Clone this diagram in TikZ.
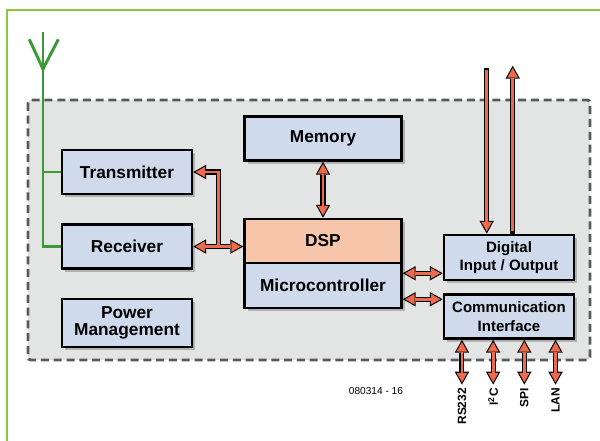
\documentclass[tikz,border=0pt]{standalone}
\usepackage{fontspec}
\setmainfont{Liberation Sans}
\usetikzlibrary{arrows.meta,positioning,shadows,calc}
\definecolor{boxblue}{HTML}{CFDBED}
\definecolor{dspsalmon}{HTML}{F7C5AA}
\definecolor{arrowred}{HTML}{EE6A4C}
\definecolor{panelgray}{HTML}{E3E4E4}
\definecolor{dashgray}{HTML}{5A5A5A}
\definecolor{aerialgreen}{HTML}{3A9A35}
\definecolor{framegreen}{HTML}{8DC63F}

\begin{document}
\begin{tikzpicture}[
  block/.style={draw,line width=1.8pt,fill=boxblue,align=center,inner sep=1pt,
    minimum width=3.25cm,minimum height=1.1cm,
    font=\fontsize{12.3}{12.3}\selectfont\bfseries,
    drop shadow={shadow xshift=2.2pt,shadow yshift=-2.2pt}},
  smallblock/.style={block,font=\fontsize{10.7}{13}\selectfont\bfseries},
  back/.style={line width=3.6pt,black,
    >={Triangle[length=9.2pt,width=10.3pt,line width=0pt]}},
  front/.style={line width=2pt,arrowred,shorten >=1.64pt,shorten <=1.64pt,
    >={Triangle[length=6.76pt,width=7.57pt,line width=0pt]}},
  aerial/.style={draw=aerialgreen,line width=2.1pt},
  port label/.style={rotate=90,anchor=east,inner sep=0pt,
    font=\fontsize{8.5}{9}\selectfont\bfseries}]
  \useasboundingbox (0,0) rectangle (15,-11.025);
  % frame and panel
  \draw[framegreen,line width=0.8pt] (0.175,-11.2) -- (0.175,-0.25) -- (15.2,-0.25);
  \draw[draw=dashgray,fill=panelgray,line width=2.1pt,rounded corners=2pt,
    dash pattern=on 0.2cm off 0.12cm] (0.7,-2.5) rectangle (14.75,-9.0);

  % blocks
  \node[block] (tx) at (3.175,-4.3) {Transmitter};
  \node[block,below=0.7cm of tx] (rx) {Receiver};
  \node[block,below=0.7cm of rx,minimum height=1.2cm] (pwr) {Power\\Management};
  \node[block,fill=dspsalmon,minimum width=3.925cm] (dsp) at (8.075,-6.025) {DSP};
  \node[block,minimum width=3.925cm,minimum height=1.125cm,below=-1.8pt of dsp] (mcu) {Microcontroller};
  \node[block,minimum width=3.925cm,above=1.4cm of dsp] (mem) {Memory};
  \node[smallblock,minimum height=1.125cm] (dio) at (12.725,-6.4375) {Digital\\Input / Output};
  \node[smallblock,below=0.3cm of dio] (com) {Communication\\Interface};

  % antenna
  \coordinate (mast) at (1.075,-0.8);
  \coordinate (fork) at (1.075,-1.725);
  \draw[aerial] (0.733,-0.983) -- (fork) -- (1.458,-0.983);
  \draw[aerial] (rx.west) -| (mast);
  \draw[aerial] (tx.west) -- (tx.west -| mast);

  % fat arrows, outline first then fill
  \coordinate (bus) at ($(rx.east)!0.5!(rx.east -| dsp.west)$);
  \coordinate (dl) at ([yshift=0.2cm]dio.south west);
  \coordinate (cl) at ([yshift=-0.15cm]com.north west);
  \foreach \lay in {back,front}{
    \draw[\lay,<->] (mem.south) -- (dsp.north);
    \draw[\lay,<->] (rx.east) -- (rx.east -| dsp.west);
    \draw[\lay,->,shorten <=0pt] (bus) |- (tx.east);
    \draw[\lay,<->] (dl -| mcu.east) -- (dl);
    \draw[\lay,<->] (cl -| mcu.east) -- (cl);
    \draw[\lay,->] ([xshift=1.1cm,yshift=4.15cm]dio.north west) -- ([xshift=1.1cm]dio.north west);
    \draw[\lay,->] ([xshift=1.75cm]dio.north west) -- ([xshift=1.75cm,yshift=4.2cm]dio.north west);
    \foreach \dx in {0.48,1.26,2.04,2.82}
      \draw[\lay,<->] ([xshift=\dx cm]com.south west) -- ++(0,-1.12);
  }

  % port labels
  \foreach \dx/\txt [count=\i] in {0.48/RS232,1.26/I\textsuperscript{2}C,2.04/SPI,2.82/LAN}
    \node[port label] (port\i) at ([xshift=\dx cm,yshift=-1.2cm]com.south west) {\txt};
  \node[font=\fontsize{7.2}{8}\selectfont] (code) at (9.4,-9.775) {080314 - 16};
\end{tikzpicture}
\end{document}
